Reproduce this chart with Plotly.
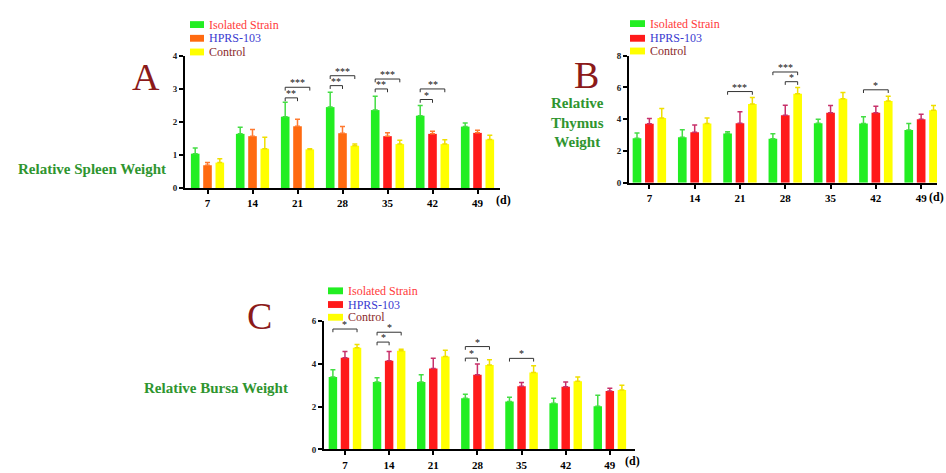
import plotly.graph_objects as go

W, H = 946, 473
days = ["7", "14", "21", "28", "35", "42", "49"]
series = ["Isolated Strain", "HPRS-103", "Control"]

# Panel A: Relative Spleen Weight
spleen_iso = [1.04, 1.64, 2.16, 2.45, 2.36, 2.19, 1.86]
spleen_iso_sd = [0.17, 0.20, 0.44, 0.45, 0.42, 0.31, 0.11]
spleen_hprs = [0.69, 1.57, 1.87, 1.66, 1.57, 1.64, 1.67]
spleen_hprs_sd = [0.08, 0.20, 0.21, 0.20, 0.10, 0.08, 0.08]
spleen_ctrl = [0.77, 1.19, 1.17, 1.28, 1.33, 1.33, 1.47]
spleen_ctrl_sd = [0.12, 0.35, 0.02, 0.05, 0.12, 0.13, 0.13]

# Panel B: Relative Thymus Weight
thymus_iso = [2.81, 2.87, 3.10, 2.77, 3.75, 3.73, 3.32]
thymus_iso_sd = [0.33, 0.47, 0.12, 0.31, 0.25, 0.43, 0.41]
thymus_hprs = [3.71, 3.18, 3.75, 4.25, 4.41, 4.41, 4.00]
thymus_hprs_sd = [0.33, 0.45, 0.72, 0.63, 0.45, 0.41, 0.31]
thymus_ctrl = [4.08, 3.73, 4.96, 5.60, 5.29, 5.15, 4.57]
thymus_ctrl_sd = [0.60, 0.35, 0.41, 0.39, 0.39, 0.29, 0.29]

# Panel C: Relative Bursa Weight
bursa_iso = [3.38, 3.15, 3.15, 2.39, 2.24, 2.16, 2.01]
bursa_iso_sd = [0.34, 0.20, 0.34, 0.18, 0.20, 0.23, 0.52]
bursa_hprs = [4.28, 4.14, 3.78, 3.49, 2.95, 2.92, 2.73]
bursa_hprs_sd = [0.29, 0.43, 0.48, 0.50, 0.17, 0.23, 0.12]
bursa_ctrl = [4.75, 4.60, 4.34, 3.94, 3.59, 3.18, 2.77]
bursa_ctrl_sd = [0.15, 0.07, 0.29, 0.25, 0.32, 0.20, 0.23]

# significance brackets: (day index, series a, series b, y level, label)
spleen_sig = [(2, 0, 1, 2.73, "**"), (2, 0, 2, 3.05, "***"),
              (3, 0, 1, 3.10, "**"), (3, 0, 2, 3.40, "***"),
              (4, 0, 1, 3.00, "**"), (4, 0, 2, 3.30, "***"),
              (5, 0, 1, 2.68, "*"), (5, 0, 2, 3.00, "**")]
thymus_sig = [(2, 0, 2, 5.74, "***"), (3, 0, 2, 6.97, "***"),
              (3, 1, 2, 6.36, "*"), (5, 0, 2, 5.85, "*")]
bursa_sig = [(0, 0, 2, 5.62, "*"), (1, 0, 1, 5.01, "*"), (1, 0, 2, 5.47, "*"),
             (3, 0, 1, 4.26, "*"), (3, 0, 2, 4.80, "*"), (4, 0, 2, 4.25, "*")]

GREEN = "#22ee22"
ORANGE = "#ff6a10"
RED = "#ff1a1a"
YELLOW = "#ffff00"
ERR = {GREEN: "#44dd44", ORANGE: "#ff7a30", RED: "#c8306a", YELLOW: "#f0e000"}
SERIF = "Liberation Serif"
BARGAP = 0.18

def px(x):
    return x / W

def py(y):
    return 1 - y / H

fig = go.Figure()

# spleen HPRS colours: orange up to day 28, red afterwards
spleen_hprs_colors = [ORANGE, ORANGE, ORANGE, ORANGE, RED, RED, RED]

panels = [
    dict(ax="", vals=[spleen_iso, spleen_hprs, spleen_ctrl],
         sds=[spleen_iso_sd, spleen_hprs_sd, spleen_ctrl_sd],
         colors=[GREEN, spleen_hprs_colors, YELLOW],
         sig=spleen_sig, xr=[-0.5, 6.5], yr=[0, 4], dt=1,
         xd=[px(185), px(500)], yd=[py(187), py(52)]),
    dict(ax="2", vals=[thymus_iso, thymus_hprs, thymus_ctrl],
         sds=[thymus_iso_sd, thymus_hprs_sd, thymus_ctrl_sd],
         colors=[GREEN, RED, YELLOW],
         sig=thymus_sig, xr=[-0.45, 6.35], yr=[0, 8], dt=2,
         xd=[px(629), px(937)], yd=[py(181.7), py(51.7)]),
    dict(ax="3", vals=[bursa_iso, bursa_hprs, bursa_ctrl],
         sds=[bursa_iso_sd, bursa_hprs_sd, bursa_ctrl_sd],
         colors=[GREEN, RED, YELLOW],
         sig=bursa_sig, xr=[-0.475, 6.57], yr=[0, 6], dt=2,
         xd=[px(324), px(635)], yd=[py(454), py(322.7)]),
]

shapes = []
annotations = []
slot = (1 - BARGAP) / 3

for p in panels:
    a = p["ax"]
    for k in range(3):
        c = p["colors"][k]
        ec = ERR[c] if isinstance(c, str) else ERR[ORANGE]
        fig.add_trace(go.Bar(
            x=days, y=p["vals"][k], name=series[k], marker_color=c,
            marker_line_width=0,
            error_y=dict(type="data", symmetric=False, array=p["sds"][k],
                         arrayminus=[0] * len(days), color=ec,
                         thickness=1.5, width=2.5),
            xaxis="x" + a, yaxis="y" + a, showlegend=False))
    drop = (p["yr"][1] - p["yr"][0]) * 0.025
    for (i, s1, s2, yv, lab) in p["sig"]:
        x1 = i + (s1 - 1) * slot
        x2 = i + (s2 - 1) * slot
        xr_, yr_ = "x" + a, "y" + a
        shapes.append(dict(type="path", xref=xr_, yref=yr_,
                           path=f"M {x1},{yv - drop} L {x1},{yv} L {x2},{yv} L {x2},{yv - drop}",
                           line=dict(color="#333333", width=1)))
        annotations.append(dict(x=(x1 + x2) / 2, y=yv, xref=xr_, yref=yr_,
                                text=lab, showarrow=False, yanchor="bottom", yshift=-3,
                                font=dict(family=SERIF, size=10, color="#111111")))
    axis_common = dict(showline=True, linecolor="black", linewidth=2,
                       ticks="outside", ticklen=4, tickwidth=1.5, tickcolor="black",
                       showgrid=False, zeroline=False)
    fig.update_layout(**{
        "xaxis" + a: dict(domain=p["xd"], range=p["xr"], type="category",
                          anchor="y" + a,
                          tickfont=dict(family=SERIF, size=11, color="black", weight="bold"),
                          **axis_common),
        "yaxis" + a: dict(domain=p["yd"], range=p["yr"], dtick=p["dt"],
                          anchor="x" + a,
                          tickfont=dict(family=SERIF, size=9, color="#222222", weight="bold"),
                          **axis_common),
    })

# "(d)" unit labels
for (x, y) in [(503, 199), (936, 196), (632, 466)]:
    annotations.append(dict(x=px(x), y=py(y), xref="paper", yref="paper", text="(d)",
                            showarrow=False, xanchor="center", yanchor="middle",
                            font=dict(family=SERIF, size=12, color="black", weight="bold")))

# Panel letters
for (lab, x, y) in [("A", 146, 74), ("B", 586, 72), ("C", 259, 318)]:
    annotations.append(dict(x=px(x), y=py(y), xref="paper", yref="paper", text=lab,
                            showarrow=False, xanchor="center", yanchor="middle",
                            font=dict(family=SERIF, size=38, color="#8b1a1a")))

# y-axis labels
LABG = "#2f952f"
annotations.append(dict(x=px(168), y=py(168), xref="paper", yref="paper",
                        text="Relative Spleen Weight", showarrow=False,
                        xanchor="right", yanchor="middle",
                        font=dict(family=SERIF, size=15, color=LABG, weight="bold")))
annotations.append(dict(x=px(577), y=py(120), xref="paper", yref="paper",
                        text="Relative<br>Thymus<br>Weight", showarrow=False,
                        xanchor="center", yanchor="middle", align="center",
                        font=dict(family=SERIF, size=15, color=LABG, weight="bold")))
annotations.append(dict(x=px(290), y=py(391), xref="paper", yref="paper",
                        text="Relative Bursa Weight", showarrow=False,
                        xanchor="right", yanchor="middle",
                        font=dict(family=SERIF, size=15, color=LABG, weight="bold")))

# Legends
text_colors = ["#ff3a3a", "#3a3ad0", "#8b2a2a"]
legends = [
    (190, 204, [20, 34, 48], [GREEN, ORANGE, YELLOW]),
    (630, 645, [19, 34, 47], [GREEN, RED, YELLOW]),
    (328, 343, [292, 306, 319], [GREEN, RED, YELLOW]),
]
for (x0, x1, ys, cols) in legends:
    for k in range(3):
        shapes.append(dict(type="rect", xref="paper", yref="paper",
                           x0=px(x0), x1=px(x1), y0=py(ys[k] + 3.5), y1=py(ys[k] - 3.5),
                           fillcolor=cols[k], line_width=0))
        annotations.append(dict(x=px(x1 + 3), y=py(ys[k]), xref="paper", yref="paper",
                                text=series[k], showarrow=False, xanchor="left",
                                yanchor="middle",
                                font=dict(family=SERIF, size=12, color=text_colors[k])))

fig.update_layout(width=W, height=H, margin=dict(l=0, r=0, t=0, b=0),
                  paper_bgcolor="white", plot_bgcolor="white",
                  barmode="group", bargap=BARGAP, bargroupgap=0.3,
                  shapes=shapes, annotations=annotations, showlegend=False)

fig.write_html("out.html", config={"displayModeBar": False},
               post_script="document.body.style.margin='0px';document.body.style.overflow='hidden';")
